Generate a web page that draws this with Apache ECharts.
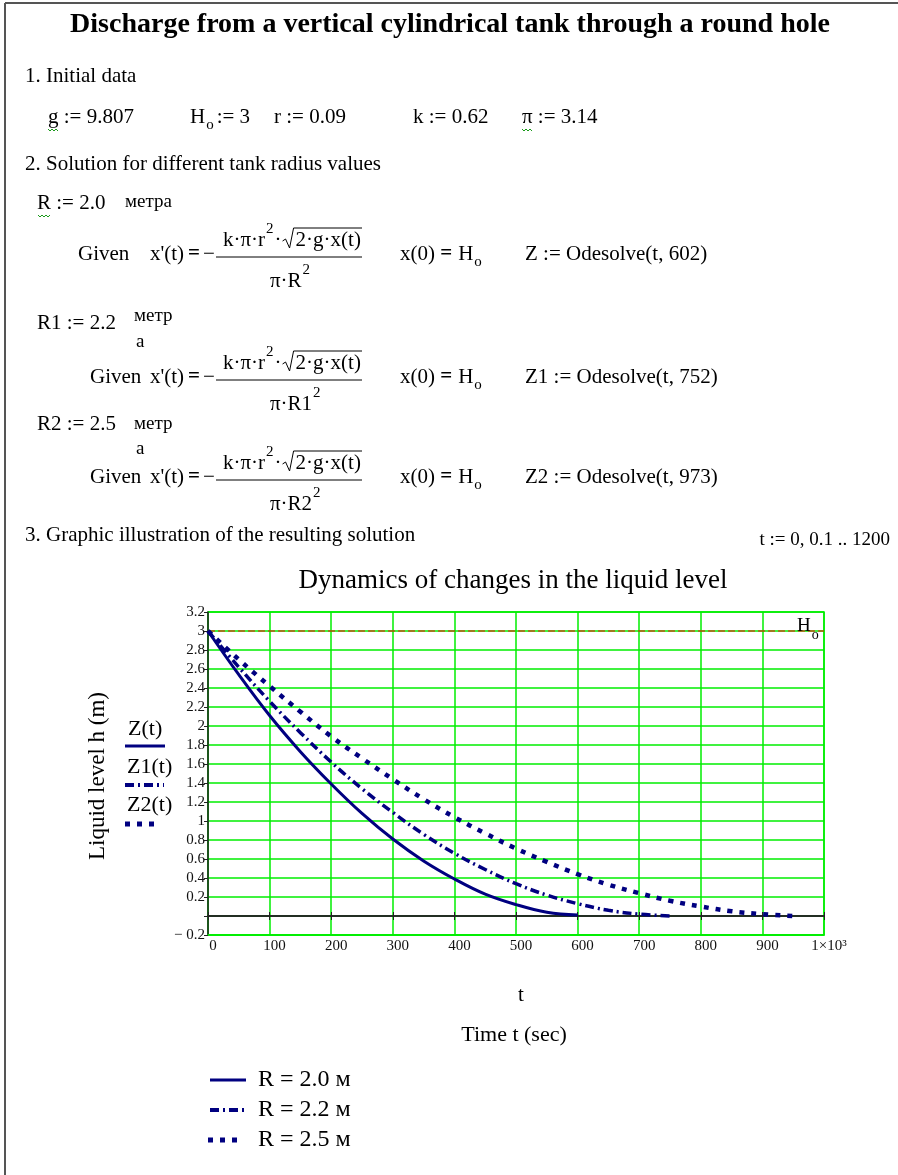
<!DOCTYPE html>
<html><head><meta charset="utf-8">
<script src="https://cdn.jsdelivr.net/npm/echarts@6/dist/echarts.min.js"></script>
<style>html,body{margin:0;padding:0;background:#fff}#c{width:898px;height:1175px}</style>
</head><body><div id="c"></div>
<script>
// ---- data ----
const timeR20 = [0, 50, 100, 150, 200, 250, 300, 350, 400, 450, 500, 550, 600];
const levelR20 = [3.00, 2.54, 2.11, 1.73, 1.39, 1.08, 0.81, 0.58, 0.39, 0.23, 0.12, 0.04, 0.01];
const timeR22 = [0, 50, 100, 150, 200, 250, 300, 350, 400, 450, 500, 550, 600, 650, 700, 750];
const levelR22 = [3.00, 2.62, 2.26, 1.93, 1.62, 1.34, 1.09, 0.86, 0.66, 0.49, 0.34, 0.22, 0.13, 0.06, 0.02, 0.00];
const timeR25 = [0, 50, 100, 150, 200, 250, 300, 350, 400, 450, 500, 550, 600, 650, 700, 750, 800, 850, 900, 950];
const levelR25 = [3.00, 2.70, 2.42, 2.15, 1.89, 1.66, 1.44, 1.23, 1.04, 0.87, 0.71, 0.57, 0.44, 0.33, 0.24, 0.16, 0.10, 0.05, 0.02, 0.00];
const timeH0 = [0, 1000];
const levelH0 = [3, 3];
const seriesNames = ['Z(t)', 'Z1(t)', 'Z2(t)'];
const legendLabels = ['R = 2.0 м', 'R = 2.2 м', 'R = 2.5 м'];
const xMaxLabel = '1×10³';

const SERIF = '"Liberation Serif","Times New Roman",Times,serif';
const NAVY = '#000080';
const GREEN = '#00ee00';

const mctx = document.createElement('canvas').getContext('2d');
function tw(s, size, bold) { mctx.font = (bold ? 'bold ' : '') + size + 'px ' + SERIF; return mctx.measureText(s).width; }
const G = [];
function txt(x, y, s, size, o) {
  o = o || {};
  G.push({type: 'text', x: x, y: y, z: 100, silent: true, rotation: o.rot || 0,
    style: {text: s, fontSize: size, fontFamily: SERIF, fontWeight: o.bold ? 'bold' : 'normal',
      fill: o.fill || '#000', align: o.align || 'left', verticalAlign: 'middle'}});
  return x + tw(s, size, o.bold);
}
function ln(x1, y1, x2, y2, o) {
  o = o || {};
  G.push({type: 'line', z: 100, silent: true, shape: {x1: x1, y1: y1, x2: x2, y2: y2},
    style: {stroke: o.stroke || '#000', lineWidth: o.w || 1, lineDash: o.dash || null, lineCap: 'butt'}});
}
function squig(x, y, w) {
  const pts = [];
  for (let i = 0; i <= w; i += 2) pts.push([x + i, y + ((i / 2) % 2 ? 2 : 0)]);
  G.push({type: 'polyline', z: 100, silent: true, shape: {points: pts}, style: {stroke: '#1a9a1a', lineWidth: 1, fill: null}});
}
function radical(x, yN, x2) {
  G.push({type: 'polyline', z: 100, silent: true,
    shape: {points: [[x, yN + 1], [x + 3, yN - 1], [x + 7, yN + 8], [x + 11, yN - 12], [x2, yN - 12]]},
    style: {stroke: '#000', lineWidth: 1, fill: null}});
}

// page frame
ln(5, 3, 5, 1175, {stroke: '#555', w: 2});
ln(5, 3, 898, 3, {stroke: '#555', w: 2});

// worksheet text
txt(450, 25, 'Discharge from a vertical cylindrical tank through a round hole', 28, {bold: true, align: 'center'});
txt(25, 76, '1. Initial data', 21);
txt(48, 117, 'g := 9.807', 21); squig(48, 129, 10);
let xx = txt(190, 117, 'H', 21); xx = txt(xx + 1, 125, 'o', 15); txt(xx + 3, 117, ':= 3', 21);
txt(274, 117, 'r := 0.09', 21);
txt(413, 117, 'k := 0.62', 21);
txt(522, 117, 'π := 3.14', 21); squig(522, 129, 10);
txt(25, 164, '2. Solution for different tank radius values', 21);

txt(37, 203, 'R := 2.0', 21); squig(38, 215, 12);
txt(125, 202, 'метра', 19);
txt(37, 323, 'R1 := 2.2', 21);
txt(134, 316, 'метр', 19); txt(136, 342, 'а', 19);
txt(37, 424, 'R2 := 2.5', 21);
txt(134, 424, 'метр', 19); txt(136, 449, 'а', 19);

function block(yb, givenX, denSub, ode) {
  txt(givenX, yb, 'Given', 21);
  let x = txt(150, yb, "x'(t)", 21);
  x = txt(x + 4, yb, '=', 21, {bold: true});
  txt(x + 3, yb, '−', 21);
  ln(216, yb + 3, 362, yb + 3);
  const yn = yb - 14;
  x = txt(223, yn, 'k·π·r', 21);
  x = txt(x + 1, yn - 11, '2', 15);
  x = txt(x + 1, yn, '·', 21);
  radical(x + 1, yn, 362);
  txt(x + 14, yn, '2·g·x(t)', 21);
  const yd = yb + 27;
  x = txt(270, yd, 'π·R' + denSub, 21);
  txt(x + 1, yd - 11, '2', 15);
  x = txt(400, yb, 'x(0) ', 21);
  x = txt(x, yb, '=', 21, {bold: true});
  x = txt(x + 6, yb, 'H', 21);
  txt(x + 1, yb + 8, 'o', 15);
  txt(525, yb, ode, 21);
}
block(254, 78, '', 'Z := Odesolve(t, 602)');
block(377, 90, '1', 'Z1 := Odesolve(t, 752)');
block(477, 90, '2', 'Z2 := Odesolve(t, 973)');

txt(25, 535, '3. Graphic illustration of the resulting solution', 21);
txt(890, 540, 't := 0, 0.1 .. 1200', 19, {align: 'right'});

// chart decorations
txt(513, 581, 'Dynamics of changes in the liquid level', 27, {align: 'center'});
txt(98, 776, 'Liquid level h (m)', 23, {align: 'center', rot: Math.PI / 2});
txt(128, 729, seriesNames[0], 22);
ln(125, 746, 165, 746, {stroke: NAVY, w: 3});
txt(127, 767, seriesNames[1], 22);
ln(125, 785, 164, 785, {stroke: NAVY, w: 4, dash: [9, 4, 2, 4]});
txt(127, 805, seriesNames[2], 22);
ln(125, 824, 160, 824, {stroke: NAVY, w: 5, dash: [5, 7]});
xx = txt(797, 626, 'H', 19); txt(xx + 1, 635, 'o', 14);
txt(518, 995, 't', 21);
txt(514, 1035, 'Time t (sec)', 22, {align: 'center'});
ln(210, 1080, 246, 1080, {stroke: NAVY, w: 3});
ln(210, 1110, 246, 1110, {stroke: NAVY, w: 4, dash: [9, 4, 2, 4]});
ln(208, 1140, 244, 1140, {stroke: NAVY, w: 5, dash: [5, 7]});
txt(258, 1080, legendLabels[0], 24);
txt(258, 1110, legendLabels[1], 24);
txt(258, 1140, legendLabels[2], 24);

const zip = (a, b) => a.map((v, i) => [v, b[i]]);
const baseX = {type: 'value', min: 0, max: 1000, interval: 100, gridIndex: 0, position: 'bottom'};
const option = {
  animation: false,
  backgroundColor: '#fff',
  grid: {left: 208, top: 612, width: 616, height: 323, show: true, borderColor: GREEN, borderWidth: 1.5, backgroundColor: 'transparent'},
  xAxis: [
    Object.assign({}, baseX, {
      axisLine: {onZero: false, lineStyle: {color: GREEN, width: 1.5}},
      axisTick: {show: false},
      axisLabel: {margin: 4, color: '#111', fontFamily: SERIF, fontSize: 15, padding: [0, 0, 0, 10],
        formatter: v => (v === 1000 ? xMaxLabel : String(v))},
      splitLine: {show: true, lineStyle: {color: GREEN, width: 1.5}}
    }),
    Object.assign({}, baseX, {
      axisLine: {onZero: true, onZeroAxisIndex: 0, lineStyle: {color: '#222', width: 1.5}},
      axisTick: {show: true, inside: false, length: 4, lineStyle: {color: '#222'}},
      axisLabel: {show: false}, splitLine: {show: false}
    }),
    Object.assign({}, baseX, {
      axisLine: {onZero: true, onZeroAxisIndex: 0, lineStyle: {color: '#222', width: 1.5}},
      axisTick: {show: true, inside: true, length: 4, lineStyle: {color: '#222'}},
      axisLabel: {show: false}, splitLine: {show: false}
    })
  ],
  yAxis: {
    type: 'value', min: -0.2, max: 3.2, interval: 0.2,
    axisLine: {onZero: false, lineStyle: {color: '#222', width: 1.5}},
    axisTick: {show: true, length: 4, lineStyle: {color: '#222'}},
    axisLabel: {margin: 3, color: '#111', fontFamily: SERIF, fontSize: 15,
      formatter: v => { const r = Math.round(v * 10) / 10; if (Math.abs(r) < 1e-9) return ''; return r < 0 ? '− ' + (-r) : String(r); }},
    splitLine: {show: true, lineStyle: {color: GREEN, width: 1.5}}
  },
  series: [
    {type: 'line', name: 'H0', data: zip(timeH0, levelH0), showSymbol: false, z: 3,
      lineStyle: {color: '#ff0000', width: 1, type: [7, 3]}},
    {type: 'line', name: seriesNames[0], data: zip(timeR20, levelR20), showSymbol: false, smooth: 0.4, z: 5,
      lineStyle: {color: NAVY, width: 3}},
    {type: 'line', name: seriesNames[1], data: zip(timeR22, levelR22), showSymbol: false, smooth: 0.4, z: 5,
      lineStyle: {color: NAVY, width: 3.5, type: [9, 4, 2, 4]}},
    {type: 'line', name: seriesNames[2], data: zip(timeR25, levelR25), showSymbol: false, smooth: 0.4, z: 5,
      lineStyle: {color: NAVY, width: 4.5, type: [5, 7], cap: 'butt'}}
  ],
  graphic: G
};
const chart = echarts.init(document.getElementById('c'), null, {renderer: 'canvas'});
chart.setOption(option);
</script>
</body></html>
